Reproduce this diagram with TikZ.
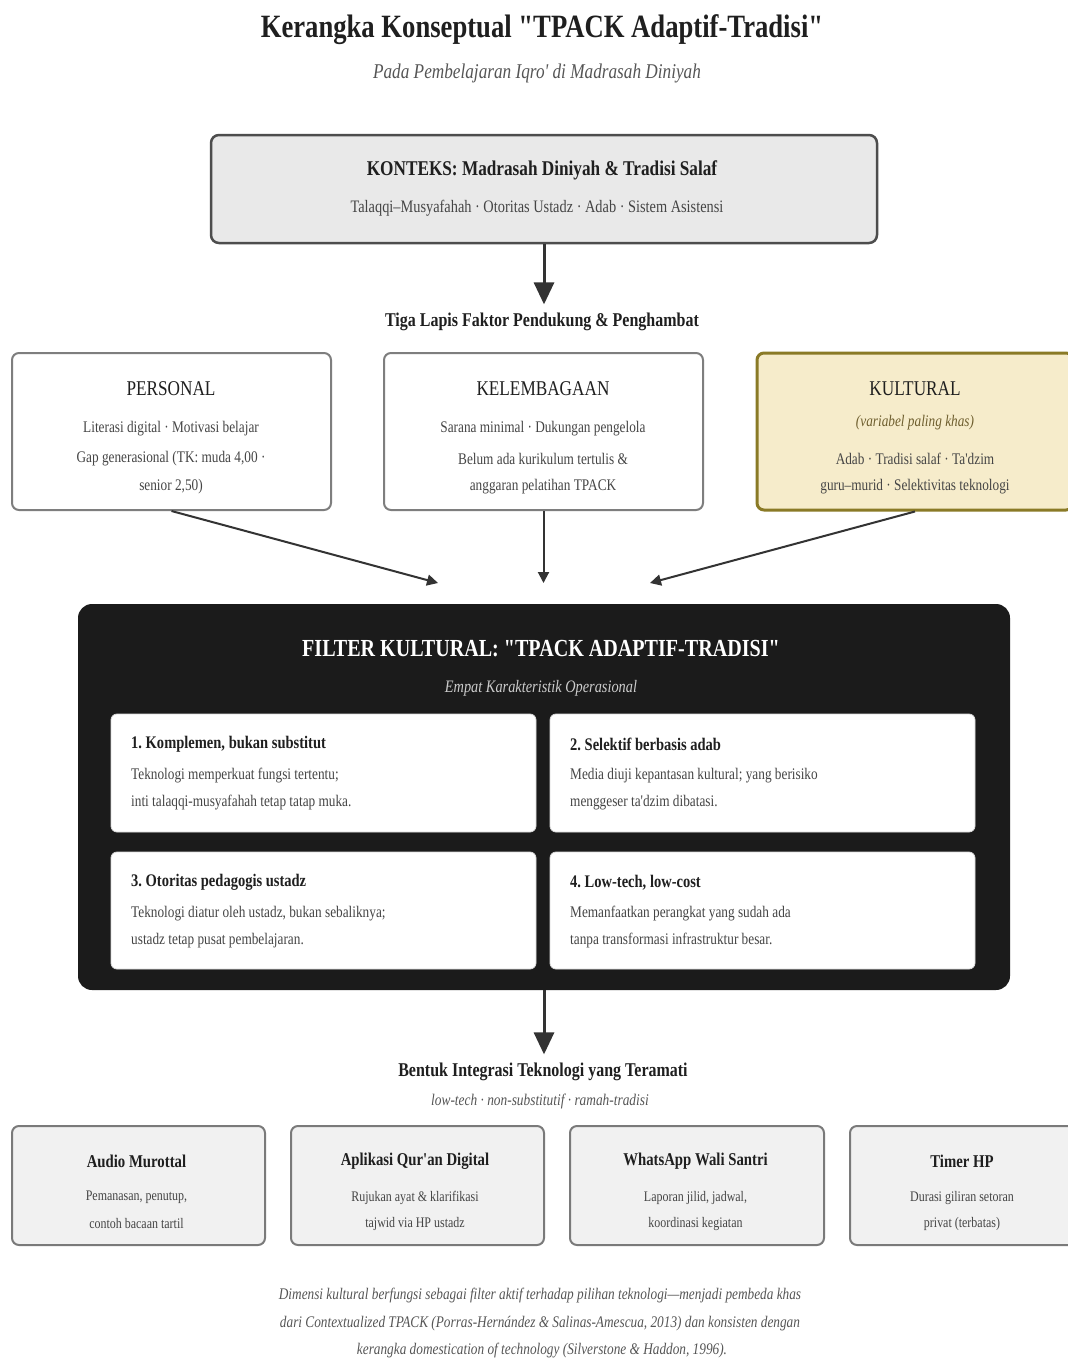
\documentclass[tikz,border=0pt]{standalone}
\usepackage{fontspec}
\defaultfontfeatures[\rmfamily]{}
\setmainfont[FakeStretch=0.82]{Liberation Serif}
\usetikzlibrary{arrows.meta}
\definecolor{ink}{HTML}{1F1F1F}
\definecolor{txt}{HTML}{454545}
\definecolor{subt}{HTML}{555555}
\definecolor{ctxfill}{HTML}{E9E9E9}
\definecolor{ctxdraw}{HTML}{4D4D4D}
\definecolor{kulfill}{HTML}{F6ECCB}
\definecolor{kuldraw}{HTML}{8A7A26}
\definecolor{kultxt}{HTML}{6E5E2E}
\definecolor{blk}{HTML}{1B1B1B}
\definecolor{botfill}{HTML}{F1F1F1}
\definecolor{botdraw}{HTML}{7A7A7A}
\definecolor{arr}{HTML}{333333}
\definecolor{lyrdraw}{HTML}{7E7E7E}
\newcommand{\fsz}[1]{\fontsize{#1}{#1}\selectfont}
\frenchspacing
\begin{document}
\frenchspacing
\begin{tikzpicture}[x=1pt,y=-1pt,
  lbl/.style={inner sep=2pt, yshift=-1.5pt},
  ctxbox/.style={draw=ctxdraw, line width=2.5pt, fill=ctxfill, rounded corners=8pt},
  lyrbox/.style={draw=lyrdraw, line width=2pt, fill=white, rounded corners=7pt, minimum width=319, minimum height=157},
  kulbox/.style={draw=kuldraw, line width=3pt, fill=kulfill, rounded corners=7pt, minimum width=316, minimum height=157},
  blkbox/.style={fill=blk, rounded corners=14pt},
  cardbox/.style={fill=white, draw=white!85!black, line width=0.8pt, rounded corners=6pt, minimum width=425},
  botbox/.style={draw=botdraw, line width=2pt, fill=botfill, rounded corners=7pt, minimum height=119},
  bigarrow/.style={draw=arr, line width=3pt, -{Triangle[length=22pt,width=20pt]}},
  smallarrow/.style={draw=arr, line width=2pt, -{Triangle[length=11pt,width=11pt]}},
  head/.style={lbl, text=ink, font=\bfseries\fsz{19.5}},
  lyrtitle/.style={lbl, text=ink, font=\fsz{21}},
  lyrline/.style={lbl, text=txt, font=\fsz{16.2}},
  cardtitle/.style={inner sep=0pt, yshift=-1.5pt, anchor=west, text=ink, font=\bfseries\fsz{17.7}},
  cardline/.style={inner sep=0pt, yshift=-1.5pt, anchor=west, text=txt, font=\fsz{16.2}},
  bottitle/.style={lbl, text=ink, font=\bfseries\fsz{18}},
  botline/.style={lbl, text=txt, font=\fsz{14.6}},
  footer/.style={lbl, text=subt, font=\itshape\fsz{16.2}}
]
\path[use as bounding box] (0,0) rectangle (1068,1360);
\clip (0,0) rectangle (1068,1360);
\fill[white] (0,0) rectangle (1068,1360);

% Title
\node[lbl, text=ink, font=\bfseries\fsz{32.5}] (title) at (542,28) {Kerangka Konseptual "TPACK Adaptif-Tradisi"};
\node[lbl, text=subt, font=\itshape\fsz{21}] (subtitle) at (537,72) {Pada Pembelajaran Iqro' di Madrasah Diniyah};

% Context
\node[ctxbox, minimum width=666, minimum height=108] (ctx) at (544,189) {};
\node[lbl, text=ink, font=\bfseries\fsz{21}] (ctxt) at (542,169) {KONTEKS: Madrasah Diniyah \& Tradisi Salaf};
\node[lbl, text=txt, font=\fsz{17.5}] (ctxs) at (537,207) {Talaqqi–Musyafahah · Otoritas Ustadz · Adab · Sistem Asistensi};

\node[head] (tiga) at (542,320) {Tiga Lapis Faktor Pendukung \& Penghambat};
\draw[bigarrow, shorten >=6pt] (ctx.south) -- (ctx.south |- tiga.north);

% Three layers
\node[lyrbox] (pers) at (171.5,431.5) {};
\node[lyrtitle] (perst) at (171,387) {PERSONAL};
\node[lyrline] (pers1) at (171,427) {Literasi digital · Motivasi belajar};
\node[lyrline] (pers2) at (171,457) {Gap generasional (TK: muda 4,00 ·};
\node[lyrline] (pers3) at (171,485) {senior 2,50)};

\node[lyrbox] (lem) at (543.5,431.5) {};
\node[lyrtitle] (lemt) at (543,387) {KELEMBAGAAN};
\node[lyrline] (lem1) at (543,427) {Sarana minimal · Dukungan pengelola};
\node[lyrline] (lem2) at (543,457) {Belum ada kurikulum tertulis \&};
\node[lyrline] (lem3) at (543,485) {anggaran pelatihan TPACK};

\node[kulbox] (kul) at (915,431.5) {};
\node[lyrtitle] (kult) at (915,387) {KULTURAL};
\node[lbl, text=kultxt, font=\itshape\fsz{16.2}] (kul0) at (915,421) {(variabel paling khas)};
\node[lyrline] (kul1) at (915,457) {Adab · Tradisi salaf · Ta'dzim};
\node[lyrline] (kul2) at (915,485) {guru–murid · Selektivitas teknologi};

\coordinate (inL) at (438,583);
\coordinate (inM) at (543.5,583);
\coordinate (inR) at (650,583);
\draw[smallarrow] (pers.south) -- (inL);
\draw[smallarrow] (lem.south) -- (inM);
\draw[smallarrow] (kul.south) -- (inR);

% Filter box
\node[blkbox, minimum width=932, minimum height=386] (filt) at (544,797) {};
\node[lbl, text=white, font=\bfseries\fsz{24.5}] (filtt) at (541,647) {FILTER KULTURAL: "TPACK ADAPTIF-TRADISI"};
\node[lbl, text=white!80!black, font=\itshape\fsz{17.5}] (filts) at (541,687) {Empat Karakteristik Operasional};

\node[cardbox, minimum height=118] (c1) at (323.5,773) {};
\node[cardbox, minimum height=118] (c2) at (762.5,773) {};
\node[cardbox, minimum height=117] (c3) at (323.5,910.5) {};
\node[cardbox, minimum height=117] (c4) at (762.5,910.5) {};

\node[cardtitle] (c1t) at (131,743) {1. Komplemen, bukan substitut};
\node[cardline] (c1a) at (131,774) {Teknologi memperkuat fungsi tertentu;};
\node[cardline] (c1b) at (131,801) {inti talaqqi-musyafahah tetap tatap muka.};

\node[cardtitle] (c2t) at (570,743) {2. Selektif berbasis adab};
\node[cardline] (c2a) at (570,774) {Media diuji kepantasan kultural; yang berisiko};
\node[cardline] (c2b) at (570,801) {menggeser ta'dzim dibatasi.};

\node[cardtitle] (c3t) at (131,881) {3. Otoritas pedagogis ustadz};
\node[cardline] (c3a) at (131,912) {Teknologi diatur oleh ustadz, bukan sebaliknya;};
\node[cardline] (c3b) at (131,939) {ustadz tetap pusat pembelajaran.};

\node[cardtitle] (c4t) at (570,881) {4. Low-tech, low-cost};
\node[cardline] (c4a) at (570,912) {Memanfaatkan perangkat yang sudah ada};
\node[cardline] (c4b) at (570,939) {tanpa transformasi infrastruktur besar.};

% Output
\node[head] (bentuk) at (543,1070) {Bentuk Integrasi Teknologi yang Teramati};
\node[lbl, text=subt, font=\itshape\fsz{16.3}] (bentuks) at (540,1100) {low-tech · non-substitutif · ramah-tradisi};
\draw[bigarrow, shorten >=6pt] (filt.south) -- (filt.south |- bentuk.north);

\node[botbox, minimum width=253] (b1) at (138.5,1185.5) {};
\node[botbox, minimum width=253] (b2) at (417.5,1185.5) {};
\node[botbox, minimum width=254] (b3) at (697,1185.5) {};
\node[botbox, minimum width=226] (b4) at (963,1185.5) {};

\node[bottitle] (b1t) at (136.5,1160) {Audio Murottal};
\node[botline] (b1a) at (136.5,1196) {Pemanasan, penutup,};
\node[botline] (b1b) at (136.5,1222) {contoh bacaan tartil};

\node[bottitle] (b2t) at (415,1160) {Aplikasi Qur'an Digital};
\node[botline] (b2a) at (415,1196) {Rujukan ayat \& klarifikasi};
\node[botline] (b2b) at (415,1222) {tajwid via HP ustadz};

\node[bottitle] (b3t) at (695.5,1160) {WhatsApp Wali Santri};
\node[botline] (b3a) at (695.5,1196) {Laporan jilid, jadwal,};
\node[botline] (b3b) at (695.5,1222) {koordinasi kegiatan};

\node[bottitle] (b4t) at (962,1160) {Timer HP};
\node[botline] (b4a) at (962,1196) {Durasi giliran setoran};
\node[botline] (b4b) at (962,1222) {privat (terbatas)};

% Footer
\node[footer] (f1) at (540,1294) {Dimensi kultural berfungsi sebagai filter aktif terhadap pilihan teknologi—menjadi pembeda khas};
\node[footer] (f2) at (540,1322) {dari Contextualized TPACK (Porras-Hernández \& Salinas-Amescua, 2013) dan konsisten dengan};
\node[footer] (f3) at (542,1349) {kerangka domestication of technology (Silverstone \& Haddon, 1996).};
\end{tikzpicture}
\end{document}
